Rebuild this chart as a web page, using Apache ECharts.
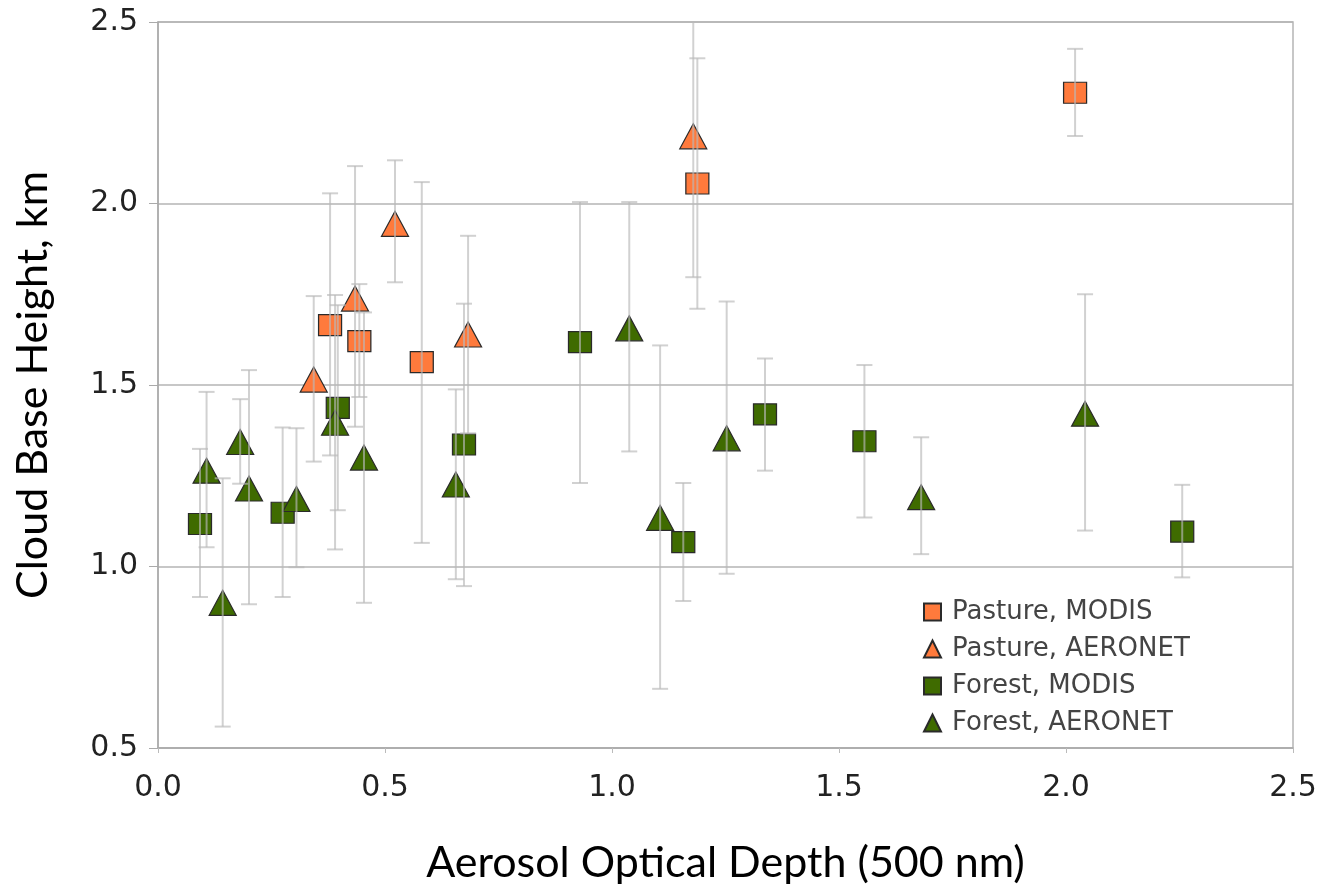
<!DOCTYPE html>
<html>
<head>
<meta charset="utf-8">
<script src="https://cdn.jsdelivr.net/npm/echarts@6/dist/echarts.min.js"></script>
<style>
  html, body { margin: 0; padding: 0; background: #fff; }
  #chart { width: 1329px; height: 890px; }
</style>
</head>
<body>
<div id="chart"></div>
<script>
// [x, y, low, high]
var pastureModis = [
  [0.379, 1.665, 1.306, 2.028],
  [0.4435, 1.621, 1.467, 1.778],
  [0.581, 1.563, 1.065, 2.059],
  [1.188, 2.055, 1.710, 2.400],
  [2.020, 2.305, 2.186, 2.426]
];
var pastureAeronet = [
  [0.343, 1.515, 1.289, 1.745],
  [0.434, 1.738, 1.385, 2.103],
  [0.522, 1.944, 1.783, 2.119],
  [0.683, 1.639, 1.367, 1.911],
  [1.179, 2.185, 1.797, 2.570]
];
var forestModis = [
  [0.0925, 1.117, 0.916, 1.324],
  [0.2746, 1.148, 0.916, 1.383],
  [0.396, 1.437, 1.155, 1.720],
  [0.674, 1.336, 0.946, 1.724],
  [0.9295, 1.618, 1.230, 2.004],
  [1.157, 1.067, 0.905, 1.230],
  [1.337, 1.419, 1.264, 1.573],
  [1.556, 1.345, 1.135, 1.555],
  [2.256, 1.096, 0.970, 1.225]
];
var forestAeronet = [
  [0.107, 1.264, 1.053, 1.481],
  [0.1425, 0.900, 0.559, 1.243],
  [0.181, 1.343, 1.228, 1.461],
  [0.2005, 1.215, 0.896, 1.541],
  [0.305, 1.186, 0.998, 1.381],
  [0.390, 1.396, 1.047, 1.748],
  [0.4537, 1.300, 0.900, 1.700],
  [0.656, 1.226, 0.965, 1.488],
  [1.038, 1.656, 1.317, 2.004],
  [1.106, 1.134, 0.663, 1.609],
  [1.2526, 1.353, 0.980, 1.730],
  [1.681, 1.191, 1.034, 1.356],
  [2.042, 1.421, 1.099, 1.750]
];
var seriesNames = ["Pasture, MODIS", "Pasture, AERONET", "Forest, MODIS", "Forest, AERONET"];
var xTicks = [0.0, 0.5, 1.0, 1.5, 2.0, 2.5];
var yTicks = [0.5, 1.0, 1.5, 2.0, 2.5];

var orange = "#ff7a3c";
var green = "#3f6b00";

function points(list) {
  return list.map(function (d) { return [d[0], d[1]]; });
}
function bars(list) {
  return list.map(function (d) { return [d[0], d[2], d[3]]; });
}

function renderErr(params, api) {
  var x = api.value(0);
  var lo = api.coord([x, api.value(1)]);
  var hi = api.coord([x, api.value(2)]);
  var hw = 8;
  var st = { stroke: "rgba(185,185,185,0.65)", lineWidth: 2 };
  return {
    type: "group",
    children: [
      { type: "line", shape: { x1: lo[0], y1: lo[1], x2: hi[0], y2: hi[1] }, style: st },
      { type: "line", shape: { x1: lo[0] - hw, y1: lo[1], x2: lo[0] + hw, y2: lo[1] }, style: st },
      { type: "line", shape: { x1: hi[0] - hw, y1: hi[1], x2: hi[0] + hw, y2: hi[1] }, style: st }
    ]
  };
}

function scatter(name, list, symbol, color) {
  return {
    name: name,
    type: "scatter",
    data: points(list),
    symbol: symbol,
    symbolSize: symbol === "rect" ? [23, 21] : [27, 25],
    itemStyle: { color: color, opacity: 1, borderColor: "#2a2a2a", borderWidth: 1.2 },
    z: 2
  };
}
function errSeries(list) {
  return {
    type: "custom",
    data: bars(list),
    renderItem: renderErr,
    clip: true,
    silent: true,
    z: 3
  };
}

var chart = echarts.init(document.getElementById("chart"));
var labelFont = { fontFamily: "DejaVu Sans", fontSize: 30, color: "#222" };

chart.setOption({
  animation: false,
  backgroundColor: "#fff",
  grid: {
    left: 158, right: 36, top: 22, bottom: 139,
    show: true, borderColor: "#b5b5b5", borderWidth: 1.5
  },
  legend: {
    orient: "vertical",
    left: 918, top: 593,
    itemWidth: 17, itemHeight: 17, itemGap: 9,
    data: seriesNames,
    textStyle: { fontFamily: "DejaVu Sans", fontSize: 26, color: "#444", lineHeight: 28, padding: [0, 0, 0, 6] }
  },
  xAxis: {
    type: "value",
    min: xTicks[0], max: xTicks[xTicks.length - 1], interval: 0.5,
    name: "Aerosol Optical Depth (500 nm)",
    nameLocation: "middle", nameGap: 94,
    nameTextStyle: { fontFamily: "Lato", fontSize: 43, color: "#000" },
    axisLine: { lineStyle: { color: "#aaa", width: 1.5 } },
    axisTick: { show: true, length: 5, lineStyle: { color: "#bbb" } },
    splitLine: { show: false },
    axisLabel: Object.assign({ margin: 25, formatter: function (v) { return v.toFixed(1); } }, labelFont)
  },
  yAxis: {
    type: "value",
    min: yTicks[0], max: yTicks[yTicks.length - 1], interval: 0.5,
    name: "Cloud Base Height, km",
    nameLocation: "middle", nameGap: 103,
    nameTextStyle: { fontFamily: "Lato", fontSize: 43, color: "#000" },
    axisLine: { lineStyle: { color: "#aaa", width: 1.5 } },
    axisTick: { show: true, length: 9, lineStyle: { color: "#aaa" } },
    splitLine: { lineStyle: { color: "#b5b5b5", width: 1.5 } },
    axisLabel: Object.assign({ margin: 20, formatter: function (v) { return v.toFixed(1); } }, labelFont)
  },
  series: [
    scatter(seriesNames[0], pastureModis, "rect", orange),
    scatter(seriesNames[1], pastureAeronet, "triangle", orange),
    scatter(seriesNames[2], forestModis, "rect", green),
    scatter(seriesNames[3], forestAeronet, "triangle", green),
    errSeries(pastureModis),
    errSeries(pastureAeronet),
    errSeries(forestModis),
    errSeries(forestAeronet)
  ]
});
</script>
</body>
</html>
